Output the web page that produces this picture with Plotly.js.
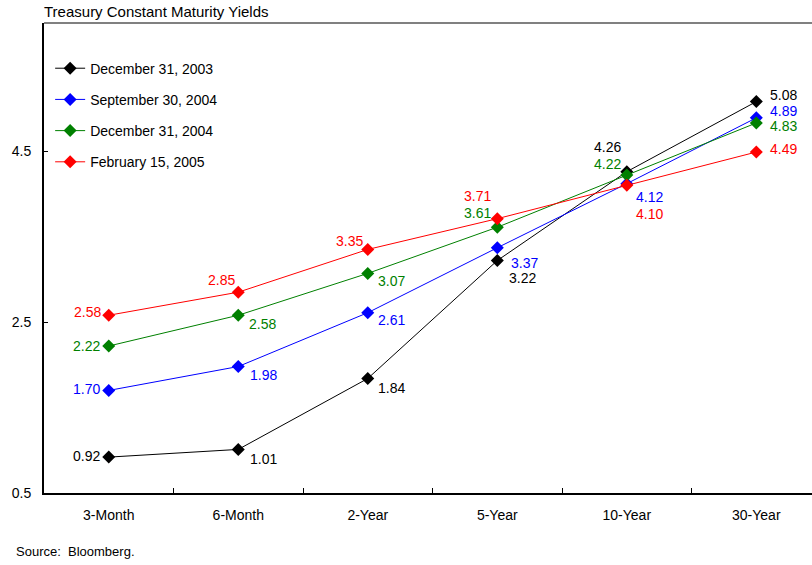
<!DOCTYPE html>
<html>
<head>
<meta charset="utf-8">
<script src="https://cdn.plot.ly/plotly-3.0.1.min.js"></script>
<style>
html,body{margin:0;padding:0;overflow:hidden;background:#fff;}
#chart{width:812px;height:565px;}
</style>
</head>
<body>
<div id="chart"></div>
<script>
// ---- data ----
var categories = ["3-Month", "6-Month", "2-Year", "5-Year", "10-Year", "30-Year"];
var seriesNames = ["December 31, 2003", "September 30, 2004", "December 31, 2004", "February 15, 2005"];
var dec2003 = [0.92, 1.01, 1.84, 3.22, 4.26, 5.08];
var sep2004 = [1.70, 1.98, 2.61, 3.37, 4.12, 4.89];
var dec2004 = [2.22, 2.58, 3.07, 3.61, 4.22, 4.83];
var feb2005 = [2.58, 2.85, 3.35, 3.71, 4.10, 4.49];
var yTicks = [0.5, 2.5, 4.5];

// ---- style ----
var colors = ["#000000", "#0000FF", "#008000", "#FF0000"];
var FONT = "Liberation Sans, Arial, sans-serif";
// label placement per point: [xanchor, xshift, yshift]
var labelPos = [
  [["right",-7,1],["left",10,-10],["left",8,-10],["left",10,-17],["right",-4,25],["left",12,7]],
  [["right",-7,1],["left",10,-8],["left",8,-7],["left",12,-15],["left",7,-13],["left",12,7]],
  [["right",-7,0],["left",9,-9],["left",8,-8],["right",-4,14],["right",-4,11],["left",12,-3]],
  [["right",-6,3],["right",-1,12],["right",-3,8],["right",-4,23],["left",7,-29],["left",12,3]]
];

var allSeries = [dec2003, sep2004, dec2004, feb2005];
var traces = [];
var annotations = [];
allSeries.forEach(function(vals, i){
  traces.push({
    type: "scatter",
    mode: "lines+markers",
    name: seriesNames[i],
    legendgroup: "g" + i,
    x: categories,
    y: vals,
    line: {color: colors[i], width: 1},
    marker: {symbol: "diamond", size: 10, color: colors[i]},
    hoverinfo: "x+y"
  });
  vals.forEach(function(v, j){
    var p = labelPos[i][j];
    annotations.push({
      xref: "x", yref: "y", x: categories[j], y: v,
      text: v.toFixed(2), showarrow: false,
      xanchor: p[0], yanchor: "middle", xshift: p[1], yshift: p[2],
      font: {family: FONT, size: 14, color: colors[i]}
    });
  });
});

annotations.push({
  xref: "paper", yref: "paper", x: -0.039, y: -0.125,
  xanchor: "left", yanchor: "middle", showarrow: false,
  text: "Source:  Bloomberg.",
  font: {family: FONT, size: 13, color: "#000"}
});

var layout = {
  width: 812, height: 565,
  margin: {l: 44, r: 0, t: 23, b: 72},
  paper_bgcolor: "#fff", plot_bgcolor: "#fff",
  font: {family: FONT, size: 14, color: "#000"},
  title: {
    text: "Treasury Constant Maturity Yields",
    x: 44/812, xref: "container", xanchor: "left",
    y: 1 - 12/565, yref: "container", yanchor: "middle",
    font: {family: FONT, size: 15, color: "#000"}
  },
  showlegend: true,
  legend: {
    x: 0.008, y: 0.937, xanchor: "left", yanchor: "top",
    bgcolor: "rgba(0,0,0,0)", borderwidth: 0,
    font: {family: FONT, size: 14, color: "#000"},
    tracegroupgap: 10
  },
  xaxis: {
    type: "category",
    range: [-0.5, 5.43],
    showline: true, linecolor: "#000", linewidth: 2,
    ticks: "inside", tickson: "boundaries", ticklen: 5, tickcolor: "#000", tickwidth: 1,
    showgrid: false, zeroline: false,
    ticklabelstandoff: 8,
    tickfont: {family: FONT, size: 14, color: "#000"}
  },
  yaxis: {
    range: [0.5, 6.0],
    tickvals: yTicks,
    ticktext: yTicks.map(function(t){return t.toFixed(1);}),
    showline: true, linecolor: "#000", linewidth: 2,
    ticks: "inside", ticklen: 4, tickcolor: "#000", tickwidth: 1,
    showgrid: false, zeroline: false,
    ticklabelstandoff: 8,
    tickfont: {family: FONT, size: 14, color: "#000"}
  },
  shapes: [{
    type: "line", xref: "paper", yref: "paper", x0: 0, x1: 1, y0: 1, y1: 1,
    line: {color: "#808080", width: 2}
  }],
  annotations: annotations
};

Plotly.newPlot("chart", traces, layout, {displayModeBar: false, staticPlot: true});
</script>
</body>
</html>
